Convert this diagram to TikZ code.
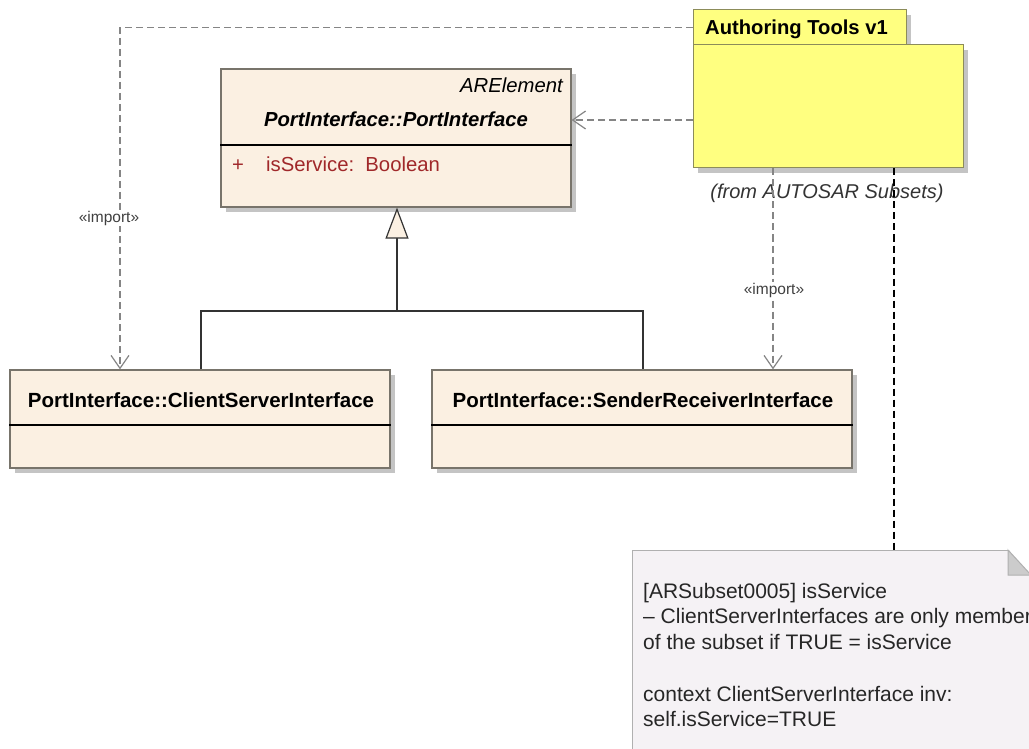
\documentclass[tikz,border=0pt]{standalone}
\usepackage{fontspec}
\setmainfont{Liberation Sans}
\usetikzlibrary{arrows.meta}
\definecolor{classfill}{HTML}{FBF0E2}
\definecolor{classline}{HTML}{78746B}
\definecolor{pkgfill}{HTML}{FFFF80}
\definecolor{pkgline}{HTML}{8C8C5A}
\definecolor{notefill}{HTML}{F5F2F5}
\definecolor{noteline}{HTML}{B0B0B0}
\definecolor{shadowc}{HTML}{C4C4C4}
\definecolor{attrred}{HTML}{A0282A}
\definecolor{depgrey}{HTML}{858585}
\tikzset{
  classbox/.style={draw=classline, line width=1.2pt, fill=classfill, inner sep=0pt},
  pkgbox/.style={draw=pkgline, line width=1pt, fill=pkgfill, inner sep=0pt},
  notebox/.style={draw=noteline, line width=1pt, fill=notefill, inner sep=0pt},
  txt/.style={inner sep=0pt, font=\fontsize{20.3}{24}\selectfont},
  notetxt/.style={inner sep=0pt, font=\fontsize{21}{25}\selectfont, text=black!85, anchor=base west},
  small/.style={inner sep=1pt, font=\fontsize{15.5}{18}\selectfont, text=black!75, fill=white},
  dep/.style={draw=depgrey, line width=1.2pt, dash pattern=on 7pt off 4pt, -{Straight Barb[length=13pt,width=18pt,line width=1.2pt]}},
  gen/.style={draw=black!80, line width=1.4pt},
  notelink/.style={draw=black, line width=1.3pt, dash pattern=on 7pt off 4pt},
}
\begin{document}
\begin{tikzpicture}[x=1pt,y=-1pt]
\useasboundingbox (0,0) rectangle (1029,749);
\clip (0,0) rectangle (1029,749);

% shadows
\fill[shadowc] (226,74) rectangle (576,212);
\fill[shadowc] (15,375) rectangle (395,473);
\fill[shadowc] (437,375) rectangle (857,473);
\fill[shadowc] (698,15) rectangle (911,50);
\fill[shadowc] (698,50) rectangle (968,173);

% PortInterface class
\node[classbox, minimum width=350pt, minimum height=138pt] (pi) at (396,138) {};
\draw[black, line width=1.2pt] (pi.west |- 0,145) -- (pi.east |- 0,145);
\node[txt, anchor=base east, font=\fontsize{20.3}{24}\selectfont\itshape] (pist) at (563,93) {ARElement};
\node[txt, font=\fontsize{20.3}{24}\selectfont\bfseries\itshape, anchor=base] (piname) at (396,127) {PortInterface::PortInterface};
\node[txt, anchor=base west, text=attrred] (piplus) at (232,172) {+};
\node[txt, anchor=base west, text=attrred] (piattr) at (266,172) {isService:\ \ Boolean};

% ClientServerInterface
\node[classbox, minimum width=380pt, minimum height=98pt] (cs) at (200,419) {};
\draw[black, line width=1.2pt] (cs.west |- 0,425) -- (cs.east |- 0,425);
\node[txt, font=\fontsize{20.5}{24}\selectfont\bfseries, anchor=base] (csname) at (201,407) {PortInterface::ClientServerInterface};

% SenderReceiverInterface
\node[classbox, minimum width=420pt, minimum height=98pt] (sr) at (642,419) {};
\draw[black, line width=1.2pt] (sr.west |- 0,425) -- (sr.east |- 0,425);
\node[txt, font=\fontsize{20.5}{24}\selectfont\bfseries, anchor=base] (srname) at (643,407) {PortInterface::SenderReceiverInterface};

% Package
\node[pkgbox, minimum width=213pt, minimum height=35pt] (pkgtab) at (799.5,27.5) {};
\node[pkgbox, minimum width=270pt, minimum height=123pt] (pkg) at (828,106.5) {};
\node[txt, font=\fontsize{20.2}{24}\selectfont\bfseries, anchor=base west] (pkgname) at (705,35) {Authoring Tools v1};
\node[txt, font=\fontsize{20}{24}\selectfont\itshape, anchor=base, text=black!80] (pkgfrom) at (827,199) {(from AUTOSAR Subsets)};

% Note
\node[notebox, minimum width=420pt, minimum height=230pt, anchor=north west] (note) at (632,550) {};
\fill[white] (1008,549) -- (1031,549) -- (1031,575) -- cycle;
\draw[noteline, line width=1pt] (632,550) -- (1008,550);
\filldraw[fill=black!20, draw=noteline, line width=1pt] (1008,550) -- (1008,575) -- (1031,575) -- cycle;
\node[notetxt] (n1) at (643,598) {[ARSubset0005] isService};
\node[notetxt] (n2) at (643,623) {– ClientServerInterfaces are only members};
\node[notetxt] (n3) at (643,649) {of the subset if TRUE = isService};
\node[notetxt] (n4) at (643,701) {context ClientServerInterface inv:};
\node[notetxt] (n5) at (643,726) {self.isService=TRUE};

% generalization
\coordinate (j) at (397,311);
\draw[gen] ([xshift=1pt]cs.north) |- (j) -| ([xshift=1pt]sr.north);
\draw[gen, -{Triangle[open, length=31pt, width=23pt, fill=classfill, line width=1.2pt]}] (j) -- (pi.south -| j);

% dependencies
\draw[dep] (pkgtab.west) -| ([xshift=-80pt]cs.north);
\draw[dep] (pkg.west |- 0,120) -- (pi.east |- 0,120);
\draw[dep] ([xshift=-55pt]pkg.south) -- ([xshift=131pt]sr.north);
\node[small] (imp1) at (109,218) {«import»};
\node[small] (imp2) at (774,290) {«import»};

% note link
\draw[notelink] ([xshift=66pt]pkg.south) -- (note.north -| 894,0);
\end{tikzpicture}
\end{document}
